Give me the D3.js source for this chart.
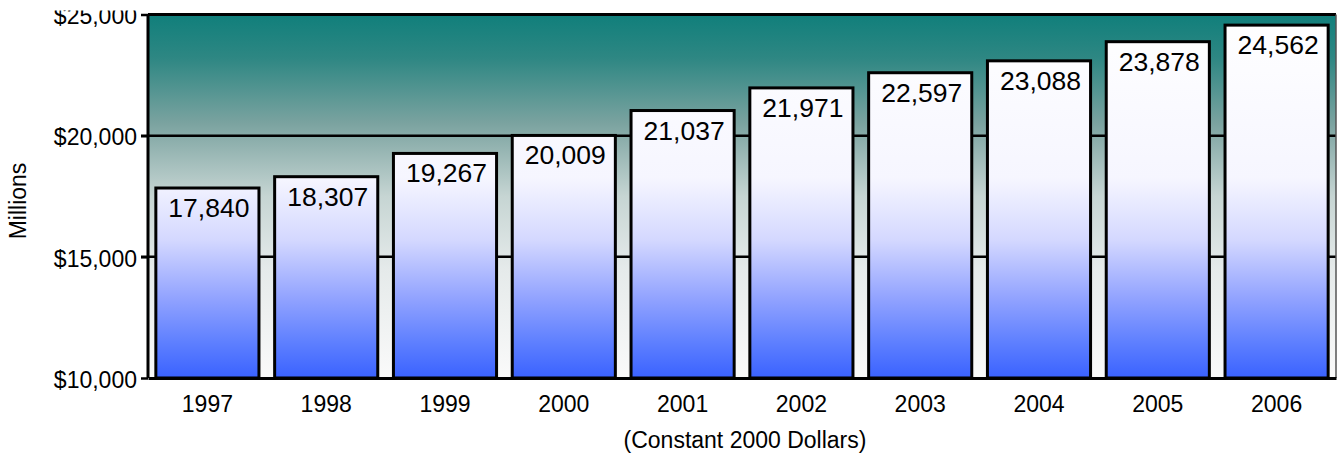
<!DOCTYPE html>
<html>
<head>
<meta charset="utf-8">
<script src="https://cdn.jsdelivr.net/npm/d3@7"></script>
<style>
  html, body { margin: 0; padding: 0; background: #fff; }
  svg { display: block; font-family: "Liberation Sans", Arial, sans-serif; }
</style>
</head>
<body>
<svg id="chart" width="1338" height="461"></svg>
<script>
// Annual totals, millions of constant 2000 dollars
const years = ["1997", "1998", "1999", "2000", "2001", "2002", "2003", "2004", "2005", "2006"];
const values = [17840, 18307, 19267, 20009, 21037, 21971, 22597, 23088, 23878, 24562];
const yTicks = [10000, 15000, 20000, 25000];
const yDomain = [10000, 25000];
const yTitle = "Millions";
const xTitle = "(Constant 2000 Dollars)";

const W = 1338, H = 461;
const margin = { left: 148, top: 14.5, right: 2, bottom: 83 };
const innerW = W - margin.left - margin.right;
const innerH = H - margin.top - margin.bottom;
const axisFont = 23;

const svg = d3.select("#chart");
const defs = svg.append("defs");

// plot background: teal fading to near white
const bg = defs.append("linearGradient")
  .attr("id", "bgGrad").attr("x1", 0).attr("y1", 0).attr("x2", 0).attr("y2", 1);
[[0, "#107f7b"], [0.12, "#2e8783"], [0.3, "#7ba3a0"], [0.5, "#c6d5d3"],
 [0.7, "#e5eaea"], [1, "#fafafa"]].forEach(([o, c]) =>
  bg.append("stop").attr("offset", o).attr("stop-color", c));

// bar fill: white at top turning to strong blue at the axis
const barGrad = defs.append("linearGradient")
  .attr("id", "barGrad").attr("gradientUnits", "userSpaceOnUse")
  .attr("x1", 0).attr("y1", 0).attr("x2", 0).attr("y2", innerH);
[[0, "#ffffff"], [0.45, "#f6f6ff"], [0.62, "#d4d8ff"], [0.78, "#92a3ff"],
 [0.9, "#5f80ff"], [1, "#3a62ff"]].forEach(([o, c]) =>
  barGrad.append("stop").attr("offset", o).attr("stop-color", c));

// labels above the plot are trimmed at the top edge
defs.append("clipPath").attr("id", "labelClip")
  .append("rect").attr("x", 0).attr("y", 10.5).attr("width", W).attr("height", H);

const x = d3.scaleBand().domain(years).range([0, innerW]).paddingInner(0.132).paddingOuter(0.066);
const y = d3.scaleLinear().domain(yDomain).range([innerH, 0]);

const g = svg.append("g").attr("transform", `translate(${margin.left},${margin.top})`);

g.append("rect").attr("width", innerW).attr("height", innerH).attr("fill", "url(#bgGrad)");

// gridlines with ticks running out past the left edge
g.append("g").selectAll("line").data(yTicks.filter(t => t > yDomain[0] && t < yDomain[1]))
  .join("line")
  .attr("x1", -7).attr("x2", innerW)
  .attr("y1", d => y(d)).attr("y2", d => y(d))
  .attr("stroke", "#000").attr("stroke-width", 2.5);

// bars
g.append("g").selectAll("rect").data(values).join("rect")
  .attr("x", (d, i) => x(years[i]))
  .attr("width", x.bandwidth())
  .attr("y", d => y(d))
  .attr("height", d => innerH - y(d))
  .attr("fill", "url(#barGrad)")
  .attr("stroke", "#000").attr("stroke-width", 3);

// value labels inside bar tops
g.append("g").selectAll("text").data(values).join("text")
  .attr("x", (d, i) => x(years[i]) + x.bandwidth() / 2 + 1.5)
  .attr("y", d => y(d) + 29)
  .attr("text-anchor", "middle")
  .attr("font-size", 26.5)
  .attr("fill", "#000")
  .text(d => d3.format(",")(d));

// frame
g.append("line").attr("x1", 0).attr("x2", 0).attr("y1", 0).attr("y2", innerH)
  .attr("stroke", "#000").attr("stroke-width", 3);
g.append("line").attr("x1", 0).attr("x2", innerW).attr("y1", 0).attr("y2", 0)
  .attr("stroke", "#000").attr("stroke-width", 3);
g.append("line").attr("x1", innerW).attr("x2", innerW).attr("y1", 0).attr("y2", innerH)
  .attr("stroke", "#555").attr("stroke-width", 1.5);

// y axis
const yAxis = g.append("g")
  .call(d3.axisLeft(y).tickValues(yTicks).tickSize(7).tickPadding(4)
    .tickFormat(d => "$" + d3.format(",")(d)));
yAxis.select(".domain").remove();
yAxis.selectAll(".tick line").attr("stroke", "#000").attr("stroke-width", 2.5);
yAxis.selectAll(".tick text").attr("font-size", axisFont).attr("fill", "#000")
  .attr("font-family", "Liberation Sans, Arial, sans-serif").attr("dy", "0.4em");
svg.append("g").attr("clip-path", "url(#labelClip)").node().appendChild(yAxis.node());
yAxis.attr("transform", `translate(${margin.left},${margin.top})`);

// x axis
const xAxis = g.append("g").attr("transform", `translate(0,${innerH})`)
  .call(d3.axisBottom(x).tickSize(0).tickPadding(17.5));
xAxis.select(".domain").attr("stroke", "#000").attr("stroke-width", 3);
xAxis.selectAll(".tick text").attr("font-size", axisFont).attr("fill", "#000")
  .attr("font-family", "Liberation Sans, Arial, sans-serif");

// axis titles
svg.append("text")
  .attr("transform", `translate(25.5,201) rotate(-90)`)
  .attr("text-anchor", "middle").attr("font-size", axisFont).attr("fill", "#000")
  .text(yTitle);
svg.append("text")
  .attr("x", 745).attr("y", 448)
  .attr("text-anchor", "middle").attr("font-size", axisFont).attr("fill", "#000")
  .text(xTitle);
</script>
</body>
</html>
